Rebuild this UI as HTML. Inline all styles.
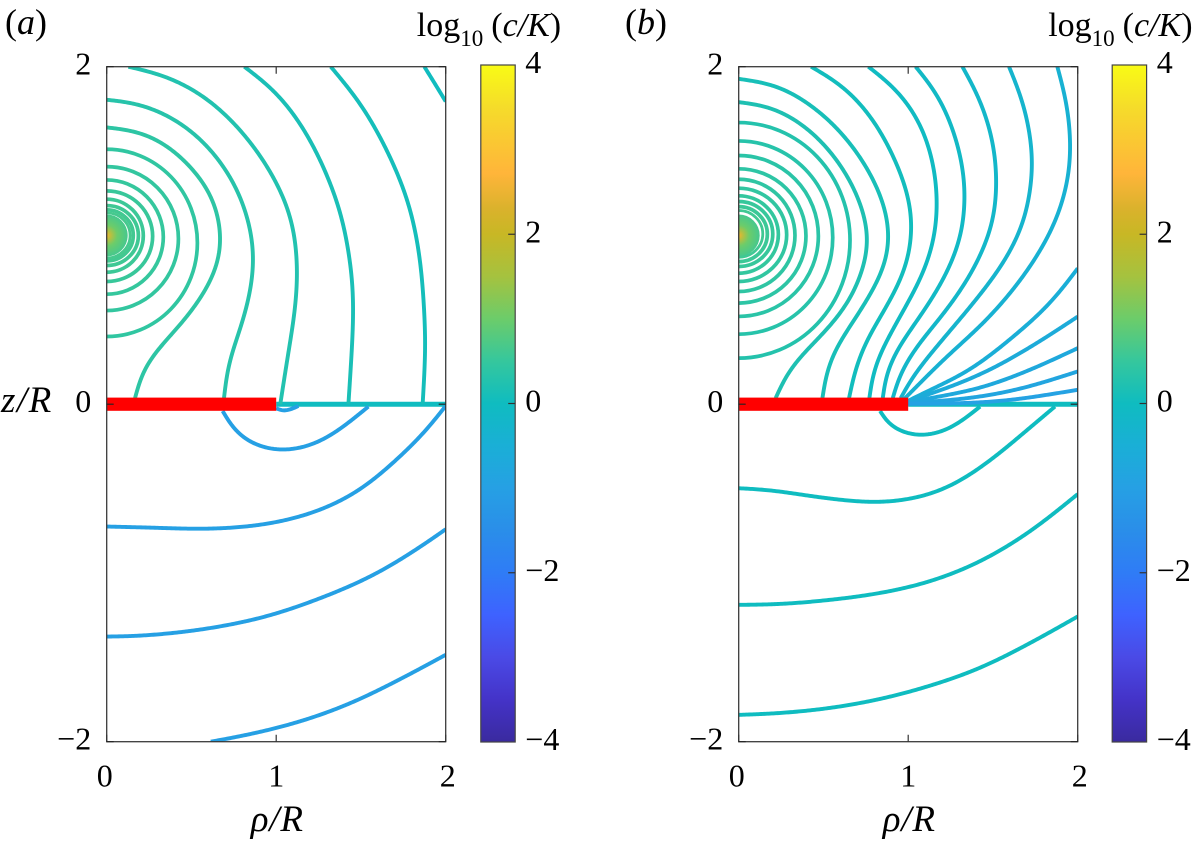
<!DOCTYPE html>
<html lang="en">
<head>
<meta charset="utf-8">
<title>Concentration contours</title>
<style>
html,body{margin:0;padding:0;background:#fff;}
svg{display:block;}
text{font-family:"Liberation Serif",serif;fill:#000;}
</style>
</head>
<body>
<svg id="figure" xmlns="http://www.w3.org/2000/svg" width="1194" height="843" viewBox="0 0 1194 843">
  <defs>
    <radialGradient id="peak-gradient">
      <stop offset="0" stop-color="#f2b52e"/>
      <stop offset="0.2" stop-color="#b8c040"/>
      <stop offset="0.5" stop-color="#6ccc6a"/>
      <stop offset="1" stop-color="#46c88e"/>
    </radialGradient>
  </defs>
</svg>
<script>
// ---- Axis values ----
const rhoTicks = [0, 1, 2];
const zTicks = [-2, 0, 2];
const barTicks = [-4, -2, 0, 2, 4];

// ---- Colour scale ----
const scaleValues = [-4, -3.5, -3, -2.5, -2, -1.5, -1, -0.5, 0, 0.5, 1, 1.5, 2, 2.3, 2.72, 3.5, 4];
const scaleColors = ['#3a2a9f', '#4433c8', '#4a4ae6', '#3e62ff', '#2f7cf6', '#2a8ee9', '#26a0e4', '#1aafd6', '#0fbcc0', '#35c79d', '#6ccc6a', '#a5c23f', '#c8b725', '#dab22c', '#ffb53a', '#f5dc2a', '#f9fb15'];

// ---- Panel (a): open contours as [rho, z] ----
const panelACurves = [
  [[1.874,2],[1.937,1.898],[2,1.794]],
  [[1.322,2],[1.495,1.784],[1.652,1.508],[1.78,1.194],[1.849,0.856],[1.878,0.46],[1.878,0.263],[1.864,0]],
  [[0.812,2],[0.983,1.864],[1.141,1.666],[1.278,1.409],[1.386,1.112],[1.445,0.777],[1.455,0.54],[1.445,0.302],[1.426,0]],
  [[0.128,2],[0.354,1.942],[0.59,1.813],[0.806,1.606],[0.983,1.35],[1.091,1.093],[1.125,0.816],[1.111,0.559],[1.071,0.302],[1.024,0]],
  [[0,1.804],[0.177,1.784],[0.393,1.695],[0.59,1.537],[0.747,1.32],[0.836,1.093],[0.869,0.875],[0.846,0.658],[0.787,0.441],[0.718,0.243],[0.692,0.036]],
  [[0,1.64],[0.177,1.62],[0.354,1.537],[0.531,1.369],[0.639,1.191],[0.678,0.954],[0.629,0.757],[0.492,0.539],[0.334,0.361],[0.216,0.213],[0.167,0.036]],
  [[0.614,-2],[0.846,-1.956],[1.141,-1.881],[1.436,-1.774],[1.731,-1.63],[2,-1.485]],
  [[0,-1.377],[0.197,-1.373],[0.551,-1.337],[0.944,-1.258],[1.337,-1.12],[1.632,-0.982],[1.927,-0.794],[2,-0.741]],
  [[0,-0.725],[0.256,-0.731],[0.61,-0.739],[0.944,-0.711],[1.239,-0.636],[1.495,-0.508],[1.731,-0.31],[1.888,-0.152],[2,-0.01]],
  [[0.684,-0.04],[0.718,-0.122],[0.806,-0.211],[0.924,-0.265],[1.042,-0.279],[1.18,-0.257],[1.318,-0.192],[1.436,-0.103],[1.544,-0.014]],
  [[0.999,-0.024],[1.042,-0.038],[1.091,-0.028],[1.131,-0.01]]
];
const panelACurveLevels = [0.02, 0.08, 0.14, 0.25, 0.32, 0.4, -1, -1, -1, -1, -1];

// ---- Panel (a): closed rings around the source as [zTop, rhoRight, zBottom] ----
const panelARings = [
  [1.511,0.535,0.401],[1.408,0.423,0.555],[1.329,0.334,0.652],[1.264,0.271,0.727],
  [1.215,0.216,0.782],[1.177,0.187,0.822],[1.152,0.157,0.849],[1.134,0.138,0.866]
];
const panelARingLevels = [0.44, 0.47, 0.5, 0.53, 0.56, 0.59, 0.62, 0.65];

// ---- Panel (b): open contours as [rho, z] ----
const panelBCurves = [
  [[0,1.79],[0.185,1.764],[0.382,1.655],[0.559,1.478],[0.696,1.25],[0.765,1.013],[0.745,0.836],[0.657,0.618],[0.519,0.44],[0.382,0.302],[0.283,0.184],[0.218,0.036]],
  [[0,1.928],[0.244,1.882],[0.5,1.715],[0.696,1.497],[0.834,1.25],[0.889,1.033],[0.873,0.855],[0.804,0.697],[0.696,0.52],[0.578,0.342],[0.519,0.203],[0.494,0.036]],
  [[0.427,2],[0.618,1.882],[0.794,1.685],[0.932,1.428],[1.011,1.191],[1.021,0.994],[0.981,0.796],[0.873,0.579],[0.755,0.381],[0.686,0.203],[0.651,0.036]],
  [[0.765,2],[0.932,1.863],[1.07,1.665],[1.148,1.428],[1.172,1.191],[1.152,0.974],[1.08,0.757],[0.952,0.52],[0.834,0.302],[0.785,0.164],[0.771,0.036]],
  [[1.044,2],[1.168,1.843],[1.266,1.626],[1.325,1.389],[1.335,1.191],[1.306,0.974],[1.207,0.737],[1.07,0.52],[0.932,0.322],[0.863,0.164],[0.85,0.036]],
  [[1.32,2],[1.424,1.803],[1.502,1.547],[1.522,1.29],[1.493,1.053],[1.384,0.796],[1.227,0.559],[1.05,0.342],[0.942,0.164],[0.909,0.036]],
  [[1.595,2],[1.679,1.784],[1.729,1.527],[1.729,1.329],[1.679,1.073],[1.561,0.836],[1.384,0.599],[1.168,0.342],[1.011,0.144],[0.956,0.036]],
  [[1.88,2],[1.935,1.784],[1.959,1.527],[1.935,1.29],[1.847,1.033],[1.679,0.757],[1.463,0.5],[1.207,0.263],[1.011,0.065],[0.962,0.016]],
  [[2,0.805],[1.837,0.597],[1.62,0.4],[1.365,0.203],[1.129,0.085],[0.991,0.016]],
  [[2,0.519],[1.758,0.361],[1.483,0.203],[1.227,0.095],[0.991,0.016]],
  [[2,0.332],[1.719,0.203],[1.424,0.095],[1.129,0.036],[0.991,0.01]],
  [[2,0.194],[1.679,0.095],[1.365,0.036],[0.991,0.006]],
  [[2,0.085],[1.62,0.026],[1.325,0.006],[0.991,0.002]],
  [[0,-1.841],[0.244,-1.831],[0.539,-1.801],[0.834,-1.748],[1.129,-1.669],[1.424,-1.564],[1.719,-1.416],[2,-1.258]],
  [[0,-1.189],[0.244,-1.185],[0.539,-1.16],[0.834,-1.12],[1.129,-1.051],[1.424,-0.933],[1.719,-0.755],[2,-0.533]],
  [[0,-0.498],[0.185,-0.508],[0.44,-0.547],[0.696,-0.577],[0.873,-0.581],[1.089,-0.547],[1.286,-0.468],[1.502,-0.32],[1.679,-0.172],[1.866,-0.014]],
  [[0.834,-0.04],[0.863,-0.103],[0.952,-0.162],[1.07,-0.188],[1.207,-0.162],[1.325,-0.093],[1.424,-0.014]]
];
const panelBCurveLevels = [0.2, 0.12, 0.04, -0.05, -0.12, -0.2, -0.3, -0.42, -0.52, -0.62, -0.72, -0.82, -0.95, 0, 0, 0, 0];

// ---- Panel (b): closed rings around the source ----
const panelBRings = [
  [1.669,0.657,0.273],[1.56,0.555,0.415],[1.474,0.47,0.52],[1.395,0.397,0.599],[1.333,0.332,0.668],
  [1.28,0.283,0.727],[1.235,0.234,0.776],[1.201,0.201,0.816],[1.171,0.169,0.845],[1.148,0.142,0.871]
];
const panelBRingLevels = [0.28, 0.32, 0.36, 0.39, 0.42, 0.45, 0.48, 0.52, 0.56, 0.6];

// ---- Geometry ----
const SVGNS = 'http://www.w3.org/2000/svg';
const svg = document.getElementById('figure');
const plotTop = 66.7, plotBottom = 741.7, plotWidth = 339;
const barTop = 65, barBottom = 742, barWidth = 34.4;

function yScale(z) { return plotTop + (2 - z) / 4 * (plotBottom - plotTop); }
function barScale(v) { return barTop + (4 - v) / 8 * (barBottom - barTop); }
function hexToRgb(h) { return [1, 3, 5].map(function (i) { return parseInt(h.substr(i, 2), 16); }); }
function colorFor(level) {
  for (let i = 0; i < scaleValues.length - 1; i++) {
    if (level <= scaleValues[i + 1]) {
      const t = Math.max(0, (level - scaleValues[i]) / (scaleValues[i + 1] - scaleValues[i]));
      const a = hexToRgb(scaleColors[i]), b = hexToRgb(scaleColors[i + 1]);
      return 'rgb(' + a.map(function (c, k) { return Math.round(c + (b[k] - c) * t); }).join(',') + ')';
    }
  }
  return scaleColors[scaleColors.length - 1];
}
function make(tag, attrs, parent) {
  const el = document.createElementNS(SVGNS, tag);
  for (const k in attrs) el.setAttribute(k, attrs[k]);
  parent.appendChild(el);
  return el;
}
// Densify through a Catmull-Rom spline, resample evenly, then Gaussian-smooth
// with endpoint-preserving reflection so hand-read points give a clean curve.
function smoothPath(pts) {
  const dense = [];
  for (let i = 0; i < pts.length - 1; i++) {
    const p0 = pts[Math.max(0, i - 1)], p1 = pts[i], p2 = pts[i + 1], p3 = pts[Math.min(pts.length - 1, i + 2)];
    for (let s = 0; s < 16; s++) {
      const t = s / 16, t2 = t * t, t3 = t2 * t;
      dense.push([0, 1].map(function (k) {
        return 0.5 * (2 * p1[k] + (p2[k] - p0[k]) * t + (2 * p0[k] - 5 * p1[k] + 4 * p2[k] - p3[k]) * t2 + (3 * p1[k] - p0[k] - 3 * p2[k] + p3[k]) * t3);
      }));
    }
  }
  dense.push(pts[pts.length - 1]);
  const step = 1.5, even = [dense[0]];
  let carry = 0, total = 0;
  for (let i = 1; i < dense.length; i++) {
    const a = dense[i - 1];
    const b = dense[i];
    const seg = Math.hypot(b[0] - a[0], b[1] - a[1]);
    total += seg;
    let pos = step - carry;
    while (pos <= seg) {
      even.push([a[0] + (b[0] - a[0]) * pos / seg, a[1] + (b[1] - a[1]) * pos / seg]);
      pos += step;
    }
    carry = (carry + seg) % step;
  }
  even.push(dense[dense.length - 1]);
  const n = even.length;
  const sigma = Math.min(18, total / 10) / step;
  const half = Math.ceil(sigma * 2.5);
  const sample = function (j, k) {
    if (j < 0) return 2 * even[0][k] - even[Math.min(n - 1, -j)][k];
    if (j >= n) return 2 * even[n - 1][k] - even[Math.max(0, 2 * (n - 1) - j)][k];
    return even[j][k];
  };
  const out = even.map(function (p, i) {
    if (i === 0 || i === n - 1) return p;
    const sum = [0, 0];
    let w = 0;
    for (let j = -half; j <= half; j++) {
      const g = Math.exp(-j * j / (2 * sigma * sigma));
      sum[0] += g * sample(i + j, 0);
      sum[1] += g * sample(i + j, 1);
      w += g;
    }
    return [sum[0] / w, sum[1] / w];
  });
  return 'M' + out.map(function (p) { return p[0].toFixed(2) + ' ' + p[1].toFixed(2); }).join('L');
}
function tickText(v) { return v < 0 ? '\u2212' + Math.abs(v) : String(v); }

function drawPanel(id, left, barLeft, letter, letterX, curves, curveLevels, rings, ringLevels) {
  const xScale = function (rho) { return left + rho / 2 * plotWidth; };
  const panel = make('g', {}, svg);
  
  

  const clip = make('clipPath', { id: 'clip-' + id }, panel);
  make('rect', { x: left, y: plotTop, width: plotWidth, height: plotBottom - plotTop }, clip);
  const plot = make('g', { 'clip-path': 'url(#clip-' + id + ')' }, panel);
  
  

  // teal surface line on z = 0 beyond the disc
  const surface = make('line', { x1: xScale(1), x2: xScale(2), y1: yScale(0), y2: yScale(0), stroke: colorFor(0), 'stroke-width': 5 }, plot);
  
  

  // source peak
  const peak = make('ellipse', { cx: xScale(0), cy: yScale(1), rx: 21, ry: 21, fill: 'url(#peak-gradient)' }, plot);
  
  

  // rings
  rings.forEach(function (r, i) {
    const yT = yScale(r[0]), yB = yScale(r[2]), rx = xScale(r[1]) - xScale(0), ry = (yB - yT) / 2;
    const ring = make('path', {
      d: 'M' + xScale(0) + ' ' + yT + 'A' + rx + ' ' + ry + ' 0 0 1 ' + xScale(0) + ' ' + yB,
      fill: 'none', stroke: colorFor(ringLevels[i]), 'stroke-width': r[1] < 0.15 ? 2.8 : 3.7
    }, plot);
    
    
  });

  // open contours
  curves.forEach(function (c, i) {
    const pts = c.map(function (p) { return [xScale(p[0]), yScale(p[1])]; });
    const path = make('path', { d: smoothPath(pts), fill: 'none', stroke: colorFor(curveLevels[i]), 'stroke-width': 3.9 }, plot);
    
    
  });

  // red disc
  const disc = make('rect', { x: xScale(0), y: yScale(0) - 6.6, width: xScale(1) - xScale(0), height: 13.2, fill: '#ff0000' }, panel);
  
  

  // frame
  const frame = make('rect', { x: left, y: plotTop, width: plotWidth, height: plotBottom - plotTop, fill: 'none', stroke: '#3a3a3a', 'stroke-width': 1.3 }, panel);
  
  

  // x axis
  rhoTicks.forEach(function (v) {
    const x = xScale(v);
    const t1 = make('path', { d: 'M' + x + ' ' + plotTop + 'v7M' + x + ' ' + plotBottom + 'v-7', stroke: '#333', 'stroke-width': 1.2, fill: 'none' }, panel);
    
    
    const lab = make('text', { x: x - (v === 0 ? 2 : 0) + (v === 2 ? 2 : 0), y: 786.7, 'text-anchor': 'middle', 'font-size': 32 }, panel);
    lab.textContent = tickText(v);
    
    
  });

  // y axis
  zTicks.forEach(function (v) {
    const y = yScale(v);
    const t2 = make('path', { d: 'M' + left + ' ' + y + 'h7M' + (left + plotWidth) + ' ' + y + 'h-7', stroke: '#222', 'stroke-width': 1.2, fill: 'none' }, panel);
    
    
    const lab = make('text', { x: left - 15.5, y: y + 8, 'text-anchor': 'end', 'font-size': 32 }, panel);
    lab.textContent = tickText(v);
    
    
  });

  // x title
  const xTitle = make('text', { x: left + 144, y: 831, 'font-size': 37, 'font-style': 'italic', 'letter-spacing': 0.8 }, panel);
  xTitle.textContent = '\u03C1/R';
  
  

  // panel letter
  const tag = make('text', { x: letterX, y: 34, 'font-size': 36 }, panel);
  
  
  tag.appendChild(document.createTextNode('('));
  const it = make('tspan', { 'font-style': 'italic' }, tag);
  it.textContent = letter;
  tag.appendChild(document.createTextNode(')'));

  // colour bar
  const gradId = 'bar-gradient-' + id;
  const grad = make('linearGradient', { id: gradId, x1: 0, y1: 1, x2: 0, y2: 0 }, panel);
  scaleValues.forEach(function (v, i) {
    make('stop', { offset: (v + 4) / 8, 'stop-color': scaleColors[i] }, grad);
  });
  const bar = make('rect', { x: barLeft, y: barTop, width: barWidth, height: barBottom - barTop, fill: 'url(#' + gradId + ')', stroke: '#444', 'stroke-width': 1.2 }, panel);
  
  

  barTicks.forEach(function (v) {
    const y = barScale(v);
    if (v !== 4 && v !== -4) {
      const t3 = make('line', { x1: barLeft + barWidth - 7, x2: barLeft + barWidth, y1: y, y2: y, stroke: '#333', 'stroke-width': 1.2 }, panel);
      
      
    }
    const lab = make('text', { x: barLeft + 44.5, y: y + 8, 'font-size': 32 }, panel);
    lab.textContent = tickText(v);
    
    
  });

  // colour bar title
  const title = make('text', { x: barLeft - 64, y: 36, 'font-size': 34 }, panel);
  
  
  title.appendChild(document.createTextNode('log'));
  const sub = make('tspan', { 'font-size': 23, dy: 10 }, title);
  sub.textContent = '10';
  const open = make('tspan', { dy: -10, dx: 8 }, title);
  open.textContent = '(';
  const ck = make('tspan', { 'font-style': 'italic' }, title);
  ck.textContent = 'c/K';
  title.appendChild(document.createTextNode(')'));
}

drawPanel('a', 106.7, 480.8, 'a', 5, panelACurves, panelACurveLevels, panelARings, panelARingLevels);
drawPanel('b', 738.7, 1112.2, 'b', 625, panelBCurves, panelBCurveLevels, panelBRings, panelBRingLevels);

const zTitle = make('text', { x: 1, y: 412, 'font-size': 37, 'font-style': 'italic', 'letter-spacing': 1.5 }, svg);
zTitle.textContent = 'z/R';


</script>
</body>
</html>
